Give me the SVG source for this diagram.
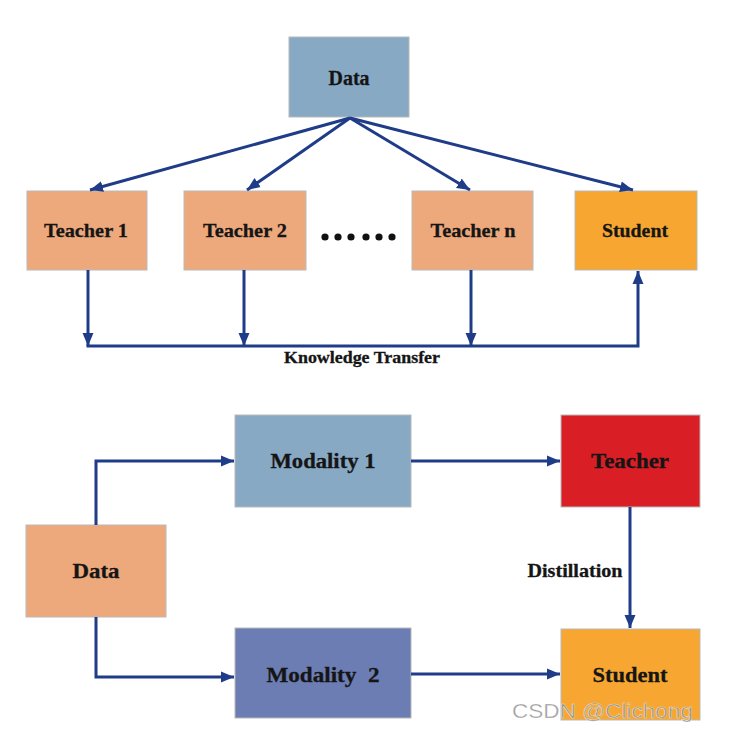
<svg xmlns="http://www.w3.org/2000/svg" width="736" height="736" viewBox="0 0 736 736">
<style>
.box{stroke:#b9b9b9;stroke-width:1}
.lbl{font-family:"Liberation Serif","Times New Roman",serif;font-weight:bold;fill:#151515;stroke:#151515;stroke-width:0.3;text-anchor:middle}
.con{fill:none;stroke:#1f3c88;stroke-width:3;stroke-linejoin:miter}
.wm{font-family:"Liberation Sans",Arial,sans-serif;fill:#8a8a8a;fill-opacity:0.85;stroke:#ffffff;stroke-width:0.6;stroke-opacity:0.6}
</style>
<defs>
<marker id="ah" markerUnits="userSpaceOnUse" markerWidth="14" markerHeight="12" refX="13" refY="6" orient="auto">
<path d="M0,0.5 L13,6 L0,11.5 z" fill="#1f3c88"/>
</marker>
</defs>
<rect width="736" height="736" fill="#ffffff"/>

<g id="data-top">
<rect class="box" x="289" y="37" width="120" height="80" fill="#88a9c4"/>
<text class="lbl" x="349" y="85" font-size="20" textLength="41" lengthAdjust="spacingAndGlyphs">Data</text>
</g>
<g id="teacher1">
<rect class="box" x="27" y="191" width="120" height="79" fill="#eda97c"/>
<text class="lbl" x="86" y="237" font-size="19" textLength="84" lengthAdjust="spacingAndGlyphs">Teacher 1</text>
</g>
<g id="teacher2">
<rect class="box" x="184" y="191" width="122" height="79" fill="#eda97c"/>
<text class="lbl" x="245" y="237" font-size="19" textLength="84" lengthAdjust="spacingAndGlyphs">Teacher 2</text>
</g>
<g id="dots">
<circle cx="325" cy="237" r="3.6" fill="#111"/>
<circle cx="338" cy="237" r="3.6" fill="#111"/>
<circle cx="351" cy="237" r="3.6" fill="#111"/>
<circle cx="366" cy="237" r="3.6" fill="#111"/>
<circle cx="379" cy="237" r="3.6" fill="#111"/>
<circle cx="392" cy="237" r="3.6" fill="#111"/>
</g>
<g id="teachern">
<rect class="box" x="412" y="191" width="121" height="79" fill="#eda97c"/>
<text class="lbl" x="473" y="237" font-size="19" textLength="85" lengthAdjust="spacingAndGlyphs">Teacher n</text>
</g>
<g id="student-top">
<rect class="box" x="575" y="191" width="122" height="79" fill="#f7a731"/>
<text class="lbl" x="635" y="237" font-size="19" textLength="66" lengthAdjust="spacingAndGlyphs">Student</text>
</g>

<g id="data-bottom">
<rect class="box" x="26" y="525" width="140" height="92" fill="#eda97c"/>
<text class="lbl" x="96" y="578" font-size="21" textLength="47" lengthAdjust="spacingAndGlyphs">Data</text>
</g>
<g id="modality1">
<rect class="box" x="235" y="415" width="176" height="92" fill="#88a9c4"/>
<text class="lbl" x="323" y="468" font-size="21" textLength="105" lengthAdjust="spacingAndGlyphs">Modality 1</text>
</g>
<g id="modality2">
<rect class="box" x="235" y="628" width="176" height="90" fill="#6b7db2"/>
<text class="lbl" x="323" y="682" font-size="21" textLength="113" lengthAdjust="spacingAndGlyphs" style="white-space:pre">Modality  2</text>
</g>
<g id="teacher-red">
<rect class="box" x="561" y="415" width="139" height="92" fill="#da1e26"/>
<text class="lbl" x="630" y="468" font-size="21" textLength="78" lengthAdjust="spacingAndGlyphs">Teacher</text>
</g>
<g id="student-bottom">
<rect class="box" x="561" y="629" width="139" height="91" fill="#f7a731"/>
<text class="lbl" x="630" y="682" font-size="21" textLength="75" lengthAdjust="spacingAndGlyphs">Student</text>
</g>

<g id="connectors">
<line class="con" x1="350" y1="118" x2="90" y2="190" marker-end="url(#ah)"/>
<line class="con" x1="350" y1="118" x2="247" y2="190" marker-end="url(#ah)"/>
<line class="con" x1="350" y1="118" x2="470" y2="190" marker-end="url(#ah)"/>
<line class="con" x1="350" y1="118" x2="633" y2="190" marker-end="url(#ah)"/>
<line class="con" x1="88" y1="270" x2="88" y2="346" marker-end="url(#ah)"/>
<line class="con" x1="244" y1="270" x2="244" y2="346" marker-end="url(#ah)"/>
<line class="con" x1="471" y1="270" x2="471" y2="346" marker-end="url(#ah)"/>
<polyline class="con" points="86.5,346 638,346 638,271" marker-end="url(#ah)"/>
<polyline class="con" points="96,525 96,461 234,461" marker-end="url(#ah)"/>
<polyline class="con" points="96,617 96,677 234,677" marker-end="url(#ah)"/>
<line class="con" x1="411" y1="461" x2="560" y2="461" marker-end="url(#ah)"/>
<line class="con" x1="411" y1="674" x2="560" y2="674" marker-end="url(#ah)"/>
<line class="con" x1="630" y1="507" x2="630" y2="628" marker-end="url(#ah)"/>
<text class="lbl" x="362" y="363" font-size="16" textLength="156" lengthAdjust="spacingAndGlyphs">Knowledge Transfer</text>
<text class="lbl" x="575" y="577" font-size="19" textLength="95" lengthAdjust="spacingAndGlyphs">Distillation</text>
</g>

<text class="wm" x="512" y="718" font-size="20" textLength="181" lengthAdjust="spacingAndGlyphs">CSDN @Clichong</text>
</svg>
